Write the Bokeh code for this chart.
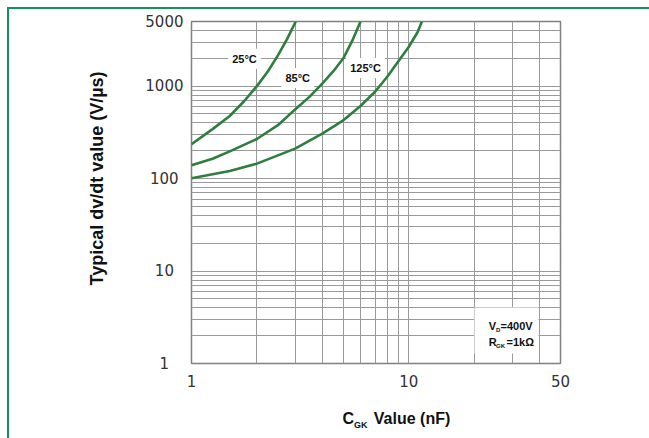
import math
from bokeh.plotting import figure
from bokeh.models import FixedTicker, Label, BoxAnnotation, Title
from bokeh.embed import file_html
from bokeh.resources import INLINE

# ---- data ----
cgk_25c = [1.0, 1.25, 1.5, 1.75, 2.0, 2.25, 2.5, 2.75, 3.02]
dvdt_25c = [235, 343, 475, 690, 1000, 1450, 2150, 3200, 5000]

cgk_85c = [1.0, 1.25, 1.5, 2.0, 2.5, 3.0, 3.5, 4.0, 4.5, 5.0, 5.5, 6.0]
dvdt_85c = [139, 164, 197, 268, 378, 560, 770, 1065, 1450, 2000, 3100, 5000]

cgk_125c = [1.0, 1.5, 2.0, 3.0, 4.0, 5.0, 6.0, 7.0, 8.0, 9.0, 10.0, 11.0, 11.5]
dvdt_125c = [101, 121, 145, 211, 306, 427, 610, 870, 1280, 1880, 2650, 3850, 5000]

series_names = ["25°C", "85°C", "125°C"]

x_ticks = [1, 10, 50]
x_tick_labels = ["1", "10", "50"]
x_minor_ticks = [2, 3, 4, 5, 6, 7, 8, 9, 20, 30, 40]

y_ticks = [1, 10, 100, 1000, 5000]
y_tick_labels = ["1", "10", "100", "1000", "5000"]
y_minor_ticks = [2, 3, 4, 5, 6, 7, 8, 9, 20, 30, 40, 50, 60, 70, 80, 90,
                 200, 300, 400, 500, 600, 700, 800, 900, 2000, 3000, 4000]

x_title_main = "C"
x_title_sub = "GK"
x_title_rest = "Value (nF)"
y_title = "Typical dv/dt value (V/µs)"
cond_lines = [("V", "D", "=400V"), ("R", "GK", "=1kΩ")]

# ---- layout ----
W, H = 649, 438
FL, FT, FW, FH = 191, 21, 369, 342
X0, X1 = 1, 50
Y0, Y1 = 1, 5000

GREEN = "#2f7d3f"
FRAME_GREEN = "#17905f"
GRID = "#9a9a9a"
BOLD_FONT = "Liberation Sans"
TICK_FONT = "DejaVu Sans"
TXT = "#111111"


def dx(cx):
    return X0 * 10 ** ((cx - FL) / FW * math.log10(X1 / X0))


def dy(cy):
    return Y0 * 10 ** ((FT + FH - cy) / FH * math.log10(Y1 / Y0))


p = figure(width=W, height=H, x_axis_type="log", y_axis_type="log",
           x_range=(X0, X1), y_range=(Y0, Y1),
           output_backend="svg", toolbar_location=None, title=None,
           min_border_left=FL, min_border_top=FT,
           min_border_right=W - FL - FW, min_border_bottom=H - FT - FH)

p.background_fill_color = "white"
p.border_fill_color = None
p.outline_line_color = "#808080"
p.outline_line_width = 1.5
p.styles = {
    "background": (f"linear-gradient({FRAME_GREEN},{FRAME_GREEN}) 7px 7px / 100% 2px no-repeat, "
                   f"linear-gradient({FRAME_GREEN},{FRAME_GREEN}) 7px 7px / 2px 100% no-repeat, white"),
}

xt = FixedTicker(ticks=x_ticks, minor_ticks=x_minor_ticks)
yt = FixedTicker(ticks=y_ticks, minor_ticks=y_minor_ticks)
p.xaxis.ticker = xt
p.yaxis.ticker = yt
p.xgrid.ticker = xt
p.ygrid.ticker = yt
for g in (p.xgrid, p.ygrid):
    g.grid_line_color = GRID
    g.grid_line_width = 1
    g.minor_grid_line_color = GRID
    g.minor_grid_line_width = 1

for ax in (p.xaxis, p.yaxis):
    ax.axis_line_color = None
    ax.major_tick_line_color = None
    ax.minor_tick_line_color = None
    ax.major_tick_out = 0
    ax.minor_tick_out = 0
    ax.major_label_text_font = TICK_FONT
    ax.major_label_text_font_size = "15px"
    ax.major_label_text_color = "#333333"

p.xaxis.major_label_overrides = {t: s for t, s in zip(x_ticks, x_tick_labels)}
p.xaxis.major_label_standoff = 11

# y labels are centred in the reference: pad shorter ones with figure spaces
widest = max(len(s) for s in y_tick_labels)


def centre_pad(s):
    missing = widest - len(s)
    return s + "\u2007" * (missing // 2) + ("\u2004" if missing % 2 else "")


p.yaxis.major_label_overrides = {t: centre_pad(s) for t, s in zip(y_ticks, y_tick_labels)}
p.yaxis.major_label_standoff = 8

# curves
for xs, ys in ((cgk_25c, dvdt_25c), (cgk_85c, dvdt_85c), (cgk_125c, dvdt_125c)):
    p.line(xs, ys, line_color=GREEN, line_width=2.6)

# curve labels with white background
label_pos = [(244, 58.3), (297.2, 77.5), (365, 67.5)]
for name, (cx, cy) in zip(series_names, label_pos):
    p.add_layout(Label(x=dx(cx), y=dy(cy), text=name, text_align="center",
                       text_baseline="middle", text_font=BOLD_FONT,
                       text_font_style="bold", text_font_size="11px",
                       text_color=TXT, background_fill_color="white",
                       padding=4))

# conditions box
p.add_layout(BoxAnnotation(left=dx(474), right=dx(538), top=dy(307), bottom=dy(353),
                           fill_color="white", fill_alpha=1.0, line_color=None))
for (main, sub, rest), cy, rest_x in zip(cond_lines, (325, 341), (500, 506)):
    p.add_layout(Label(x=dx(488.3), y=dy(cy), text=main, text_align="left",
                       text_baseline="middle", text_font=BOLD_FONT, text_font_style="bold",
                       text_font_size="11px", text_color=TXT))
    p.add_layout(Label(x=dx(495.5), y=dy(cy + 4.5), text=sub, text_align="left",
                       text_baseline="middle", text_font=BOLD_FONT, text_font_style="bold",
                       text_font_size="6px", text_color=TXT))
    p.add_layout(Label(x=dx(rest_x), y=dy(cy), text=rest, text_align="left",
                       text_baseline="middle", text_font=BOLD_FONT, text_font_style="bold",
                       text_font_size="11px", text_color=TXT))

# y axis title (side panel, not clipped)
p.add_layout(Title(text=y_title, align="left", offset=78, vertical_align="middle",
                   standoff=69, text_font=BOLD_FONT, text_font_style="bold",
                   text_font_size="18px", text_color=TXT), "left")

# x axis title: pieces in side panels so they are not clipped to the frame
p.add_layout(Label(x=dx(373.3), y=dy(418), text=x_title_rest, text_align="left",
                   text_baseline="alphabetic", text_font=BOLD_FONT, text_font_style="bold",
                   text_font_size="16px", text_color=TXT), "below")
p.add_layout(Label(x=dx(342), y=dy(418), text=x_title_main, text_align="left",
                   text_baseline="alphabetic", text_font=BOLD_FONT, text_font_style="bold",
                   text_font_size="16px", text_color=TXT), "right")
p.add_layout(Label(x=dx(353.5), y=dy(424.5), text=x_title_sub, text_align="left",
                   text_baseline="alphabetic", text_font=BOLD_FONT, text_font_style="bold",
                   text_font_size="9px", text_color=TXT), "right")

open("out.html", "w").write(file_html(p, INLINE))
